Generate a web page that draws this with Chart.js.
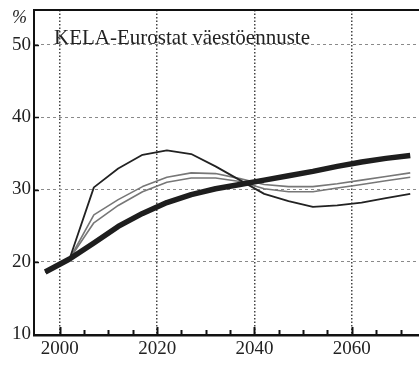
<!DOCTYPE html>
<html>
<head>
<meta charset="utf-8">
<script src="https://cdn.jsdelivr.net/npm/chart.js@4"></script>
<style>
  body { margin: 0; background: #fff; }
</style>
</head>
<body>
<canvas id="graph" width="419" height="365"></canvas>
<script>
// KELA-Eurostat population projection, share in %

const years = [1997, 2002, 2007, 2012, 2017, 2022, 2027, 2032, 2037, 2042, 2047, 2052, 2057, 2062, 2067, 2072];
const baseline = [18.6, 20.4, 22.6, 24.9, 26.7, 28.2, 29.3, 30.1, 30.7, 31.3, 31.9, 32.5, 33.2, 33.8, 34.3, 34.7];
const highVariant = [18.6, 20.4, 30.3, 32.9, 34.8, 35.4, 34.9, 33.2, 31.3, 29.4, 28.4, 27.6, 27.8, 28.2, 28.8, 29.4];
const upperVariant = [18.6, 20.4, 26.5, 28.6, 30.4, 31.7, 32.3, 32.2, 31.5, 30.7, 30.4, 30.4, 30.8, 31.3, 31.8, 32.3];
const lowerVariant = [18.6, 20.4, 25.4, 27.8, 29.7, 31.0, 31.6, 31.6, 31.1, 30.1, 29.7, 29.7, 30.2, 30.7, 31.2, 31.7];

const yTicks = [10, 20, 30, 40, 50];
const xTicks = [2000, 2020, 2040, 2060];
const tickMarkYears = [2000, 2005, 2010, 2015, 2020, 2025, 2030, 2035, 2040, 2045, 2050, 2055, 2060, 2065, 2070];

const chartTitle = 'KELA-Eurostat väestöennuste';
const unitLabel = '%';

const toPoints = (vals) => vals.map((v, i) => ({ x: years[i], y: v }));

const serif = '"Liberation Serif", "DejaVu Serif", serif';

// frame top, inside tick marks and the texts
const decor = {
  id: 'decor',
  afterDraw(chart) {
    const { ctx, chartArea: a, scales: { x, y } } = chart;
    ctx.save();
    ctx.strokeStyle = '#111';
    ctx.lineWidth = 2;
    ctx.beginPath();
    ctx.moveTo(a.left - 1, a.top);
    ctx.lineTo(a.right, a.top);
    ctx.stroke();

    ctx.lineWidth = 2;
    tickMarkYears.forEach(yr => {
      const px = Math.round(x.getPixelForValue(yr)) + 0.5;
      const len = yr % 20 === 0 ? 8 : 5;
      ctx.beginPath();
      ctx.moveTo(px, a.bottom);
      ctx.lineTo(px, a.bottom - len);
      ctx.stroke();
    });
    ctx.lineWidth = 1.5;
    yTicks.slice(1).forEach(v => {
      const py = Math.round(y.getPixelForValue(v)) + 0.5;
      ctx.beginPath();
      ctx.moveTo(a.left, py);
      ctx.lineTo(a.left + 5, py);
      ctx.stroke();
    });

    ctx.fillStyle = '#222';
    ctx.textBaseline = 'alphabetic';
    ctx.textAlign = 'left';
    ctx.font = 'italic 18px ' + serif;
    ctx.fillText(unitLabel, 12, 23);
    ctx.font = '21px ' + serif;
    ctx.fillText(chartTitle, 54, 44);
    ctx.restore();
  }
};

const ctx = document.getElementById('graph').getContext('2d');

new Chart(ctx, {
  type: 'line',
  data: {
    datasets: [
      { label: 'baseline', data: toPoints(baseline), borderColor: '#1e1e1e', borderWidth: 5.5 },
      { label: 'high', data: toPoints(highVariant), borderColor: '#222', borderWidth: 1.8 },
      { label: 'upper', data: toPoints(upperVariant), borderColor: '#777', borderWidth: 1.6 },
      { label: 'lower', data: toPoints(lowerVariant), borderColor: '#777', borderWidth: 1.6 }
    ]
  },
  options: {
    responsive: false,
    animation: false,
    layout: { padding: { top: 10, right: 0, left: 0, bottom: 0 } },
    elements: {
      point: { radius: 0 },
      line: { tension: 0, fill: false, borderCapStyle: 'butt', borderJoinStyle: 'round' }
    },
    plugins: {
      legend: { display: false },
      tooltip: { enabled: false }
    },
    scales: {
      x: {
        type: 'linear',
        min: 1994.7,
        max: 2073.8,
        afterBuildTicks: s => { s.ticks = xTicks.map(v => ({ value: v })); },
        afterFit: s => { s.height = 30; s.paddingLeft = 0; s.paddingRight = 0; },
        ticks: {
          color: '#222',
          font: { family: serif, size: 19 },
          padding: 3,
          maxRotation: 0,
          callback: v => String(v)
        },
        grid: {
          drawTicks: false,
          color: '#444',
          lineWidth: 1.5
        },
        border: { display: true, color: '#111', width: 2.5, dash: [1.5, 2] }
      },
      y: {
        min: 9.9,
        max: 54.8,
        afterBuildTicks: s => { s.ticks = yTicks.map(v => ({ value: v })); },
        afterFit: s => { s.width = 34; s.paddingTop = 0; s.paddingBottom = 0; },
        ticks: {
          color: '#222',
          font: { family: serif, size: 19 },
          padding: 3,
          callback: v => String(v)
        },
        grid: {
          drawTicks: false,
          color: '#8a8a8a',
          lineWidth: 1
        },
        border: { display: true, color: '#111', width: 2, dash: [3, 3] }
      }
    }
  },
  plugins: [decor]
});
</script>
</body>
</html>
